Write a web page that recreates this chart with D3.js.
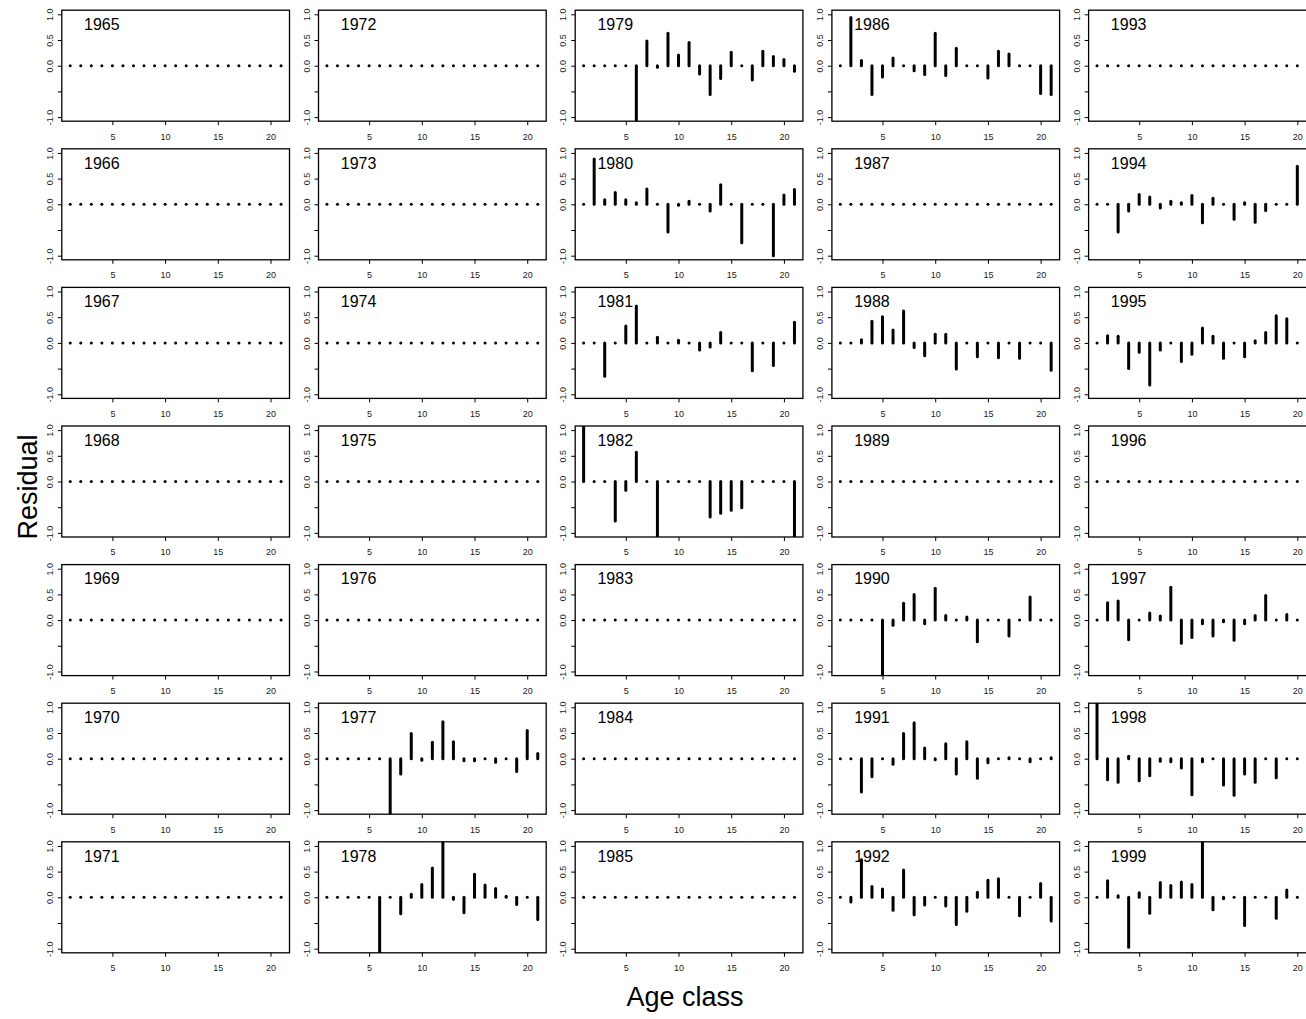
<!DOCTYPE html>
<html>
<head>
<meta charset="utf-8">
<script src="https://cdn.jsdelivr.net/npm/d3@7"></script>
<style>
  body { margin: 0; background: #fff; }
  svg { display: block; }
  text { font-family: "Liberation Sans", Arial, Helvetica, sans-serif; }
</style>
</head>
<body>
<svg id="chart" width="1306" height="1019"></svg>
<script>
// Age classes on the x axis of every panel
const ages = [1, 2, 3, 4, 5, 6, 7, 8, 9, 10, 11, 12, 13, 14, 15, 16, 17, 18, 19, 20, 21];

// Panel years, filled column by column (7 rows x 5 columns)
const years = [1965, 1966, 1967, 1968, 1969, 1970, 1971,
               1972, 1973, 1974, 1975, 1976, 1977, 1978,
               1979, 1980, 1981, 1982, 1983, 1984, 1985,
               1986, 1987, 1988, 1989, 1990, 1991, 1992,
               1993, 1994, 1995, 1996, 1997, 1998, 1999];

// Axis ticks
const xTicks = [5, 10, 15, 20];
const yTicks = [-1, -0.5, 0, 0.5, 1];
const yTickLabels = ["-1.0", "", "0.0", "0.5", "1.0"];

// Residuals by age class (1..21); years without fitted data are all zero
const flat    = [0, 0, 0, 0, 0, 0, 0, 0, 0, 0, 0, 0, 0, 0, 0, 0, 0, 0, 0, 0, 0];
const res1977 = [0, 0, 0, 0, 0, 0, -1.3, -0.3, 0.49, -0.03, 0.32, 0.72, 0.33, -0.04, -0.04, 0, -0.07, 0, -0.25, 0.55, 0.1];
const res1978 = [0, 0, 0, 0, 0, -1.3, 0, -0.32, 0.06, 0.25, 0.57, 1.3, -0.04, -0.3, 0.45, 0.24, 0.17, 0.02, -0.14, 0, -0.43];
const res1979 = [0, 0, 0, 0, 0, -1.3, 0.48, -0.03, 0.63, 0.21, 0.45, -0.16, -0.56, -0.25, 0.26, 0, -0.28, 0.28, 0.18, 0.12, -0.11];
const res1980 = [0, 0.88, 0.09, 0.23, 0.09, 0.03, 0.3, 0, -0.54, -0.02, 0.06, 0, -0.13, 0.38, 0, -0.75, 0, 0, -1.0, 0.18, 0.29];
const res1981 = [0, 0, -0.65, 0, 0.33, 0.72, 0, 0.11, 0, 0.05, 0, -0.14, -0.08, 0.2, 0, 0, -0.54, 0, -0.44, 0, 0.4];
const res1982 = [1.4, 0, 0, -0.77, -0.17, 0.57, 0, -1.3, 0, 0, 0, 0, -0.69, -0.62, -0.56, -0.51, 0, 0, 0, 0, -1.3];
const res1986 = [0, 0.94, 0.1, -0.56, -0.22, 0.15, 0, -0.1, -0.17, 0.63, -0.19, 0.34, 0, 0, -0.24, 0.28, 0.23, 0, 0, -0.54, -0.56];
const res1988 = [0, 0, 0.06, 0.42, 0.51, 0.25, 0.62, -0.09, -0.25, 0.17, 0.17, -0.51, 0, -0.27, 0, -0.29, 0, -0.3, 0, 0, -0.53];
const res1990 = [0, 0, 0, 0, -1.3, -0.1, 0.33, 0.5, -0.07, 0.62, 0.09, 0, 0.06, -0.42, 0, 0, -0.31, 0, 0.45, 0, 0];
const res1991 = [0, 0, -0.65, -0.35, 0, -0.11, 0.49, 0.7, 0.21, -0.02, 0.29, -0.3, 0.33, -0.38, -0.08, 0, 0.02, 0, -0.06, 0, 0.02];
const res1992 = [0, -0.09, 0.73, 0.21, 0.16, -0.25, 0.53, -0.34, -0.15, 0, -0.17, -0.53, -0.27, 0.1, 0.33, 0.36, 0, -0.36, 0, 0.27, -0.46];
const res1994 = [0, 0, -0.54, -0.13, 0.19, 0.14, -0.07, 0.06, 0.03, 0.17, -0.36, 0.12, 0, -0.29, 0.03, -0.35, -0.12, 0, 0, 0.74, 0];
const res1995 = [0, 0.14, 0.13, -0.5, -0.18, -0.82, -0.14, 0, -0.36, -0.22, 0.29, 0.13, -0.3, 0, -0.27, 0.04, 0.2, 0.53, 0.47, 0, 0];
const res1997 = [0, 0.34, 0.37, -0.38, 0, 0.14, 0.08, 0.64, -0.45, -0.34, -0.07, -0.31, -0.03, -0.39, -0.07, 0.09, 0.48, 0, 0.11, 0, 0];
const res1998 = [1.3, -0.41, -0.46, 0.05, -0.43, -0.33, -0.05, -0.06, -0.18, -0.7, -0.06, 0, -0.51, -0.71, -0.3, -0.46, 0, -0.37, 0, 0, 0];
const res1999 = [0, 0.32, 0.03, -0.97, 0.09, -0.31, 0.29, 0.23, 0.3, 0.25, 1.3, -0.24, -0.03, 0, -0.55, 0, 0, -0.41, 0.14, 0, 0];

const residualsByYear = {
  1977: res1977, 1978: res1978, 1979: res1979, 1980: res1980, 1981: res1981,
  1982: res1982, 1986: res1986, 1988: res1988, 1990: res1990, 1991: res1991,
  1992: res1992, 1994: res1994, 1995: res1995, 1997: res1997, 1998: res1998,
  1999: res1999
};

// Grid geometry
const nRows = 7;
const colStep = 256.7, rowStep = 138.6;
const plotLeft = 61.8, plotTop = 10.2;
const plotW = 227.7, plotH = 111;

const x = d3.scaleLinear().domain([0.2, 21.8]).range([0, plotW]);
const y = d3.scaleLinear().domain([-1.08, 1.08]).range([plotH, 0]);

const tickFont = '"Liberation Sans", Arial, sans-serif';

const svg = d3.select("#chart");
svg.append("rect").attr("width", 1306).attr("height", 1019).attr("fill", "#fff");

svg.append("defs").append("clipPath").attr("id", "plotArea")
  .append("rect").attr("x", 0).attr("y", 0).attr("width", plotW).attr("height", plotH);

years.forEach((year, i) => {
  const col = Math.floor(i / nRows), row = i % nRows;
  const vals = residualsByYear[year] || flat;
  const g = svg.append("g")
    .attr("transform", `translate(${plotLeft + col * colStep},${plotTop + row * rowStep})`);

  // x axis
  const xa = g.append("g").attr("transform", `translate(0,${plotH})`)
    .call(d3.axisBottom(x).tickValues(xTicks).tickSize(4).tickPadding(8));
  xa.select(".domain").remove();
  xa.selectAll("line").attr("stroke", "#000");
  xa.selectAll("text").attr("font-size", 9).attr("fill", "#1a1a1a")
    .style("font-family", tickFont);

  // y axis with rotated labels
  const ya = g.append("g")
    .call(d3.axisLeft(y).tickValues(yTicks).tickSize(4)
      .tickFormat((d, k) => yTickLabels[k]));
  ya.select(".domain").remove();
  ya.selectAll("line").attr("stroke", "#000");
  ya.selectAll("text")
    .attr("x", null).attr("dy", null)
    .attr("transform", "translate(-11.8,0) rotate(-90)")
    .attr("text-anchor", "middle")
    .attr("dominant-baseline", "central")
    .attr("font-size", 9).attr("fill", "#1a1a1a")
    .style("font-family", tickFont);

  // residual spikes
  g.append("g").attr("clip-path", "url(#plotArea)")
    .selectAll("line.spike")
    .data(ages.map((a, k) => ({ age: a, v: vals[k] })))
    .join("line")
    .attr("class", "spike")
    .attr("x1", d => x(d.age)).attr("x2", d => x(d.age))
    .attr("y1", y(0)).attr("y2", d => y(d.v))
    .attr("stroke", "#000")
    .attr("stroke-width", 3)
    .attr("stroke-linecap", "round");

  // frame
  g.append("rect")
    .attr("width", plotW).attr("height", plotH)
    .attr("fill", "none").attr("stroke", "#000").attr("stroke-width", 1.3);

  // year label
  g.append("text")
    .attr("x", x(4)).attr("y", y(0.8))
    .attr("text-anchor", "middle")
    .attr("dominant-baseline", "central")
    .attr("font-size", 16)
    .text(year);
});

// Outer axis titles
svg.append("text")
  .attr("transform", "translate(28,487) rotate(-90)")
  .attr("text-anchor", "middle")
  .attr("dominant-baseline", "central")
  .attr("font-size", 27)
  .text("Residual");

svg.append("text")
  .attr("x", 685).attr("y", 997)
  .attr("text-anchor", "middle")
  .attr("dominant-baseline", "central")
  .attr("font-size", 27)
  .text("Age class");
</script>
</body>
</html>
